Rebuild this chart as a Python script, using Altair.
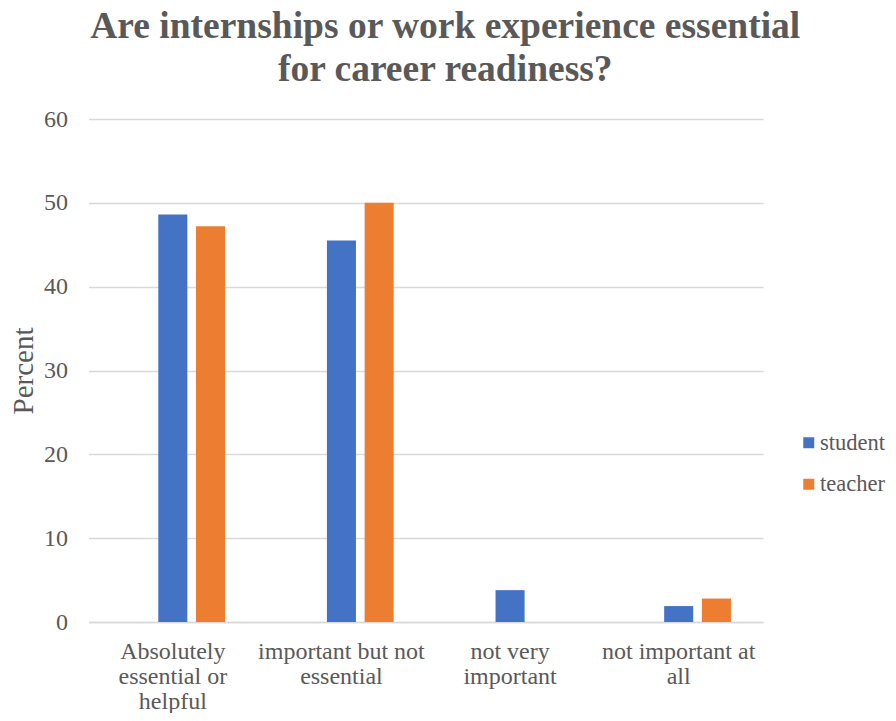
import altair as alt
import pandas as pd

categories = ["Absolutely essential or helpful", "important but not essential",
              "not very important", "not important at all"]
label_lines = [["Absolutely", "essential or", "helpful"],
               ["important but not", "essential"],
               ["not very", "important"],
               ["not important at", "all"]]
student = [48.6, 45.5, 3.8, 1.9]
teacher = [47.2, 50.0, None, 2.8]
series = ["student", "teacher"]

rows = []
for c, s, t in zip(categories, student, teacher):
    rows.append({"category": c, "group": "student", "value": s})
    if t is not None:
        rows.append({"category": c, "group": "teacher", "value": t})
df = pd.DataFrame(rows)

expr = ""
for c, lines in zip(categories, label_lines):
    arr = "[" + ",".join("'" + l + "'" for l in lines) + "]"
    expr += f"datum.value == '{c}' ? {arr} : "
expr += "datum.label"

FONT = "Liberation Serif"
GREY = "#595959"

chart = alt.Chart(df).mark_bar(stroke=None).encode(
    x=alt.X("category:N", sort=categories,
            scale=alt.Scale(paddingInner=0, paddingOuter=0),
            axis=alt.Axis(title=None, labelAngle=0, labelExpr=expr, labelFont=FONT,
                          labelFontSize=24, labelColor=GREY, labelLineHeight=25,
                          ticks=False, domain=True, domainColor="#D9D9D9", domainWidth=1.5,
                          labelPadding=17, labelLimit=300)),
    xOffset=alt.XOffset("group:N",
                        scale=alt.Scale(domain=["_", "student", "teacher"],
                                        paddingInner=0.23, paddingOuter=0.85)),
    y=alt.Y("value:Q", scale=alt.Scale(domain=[0, 60]),
            axis=alt.Axis(title="Percent", values=[0, 10, 20, 30, 40, 50, 60],
                          labelFont=FONT, labelFontSize=24, labelColor=GREY,
                          titleFont=FONT, titleFontSize=29, titleColor=GREY,
                          titleFontWeight="normal", titlePadding=5,
                          ticks=False, domain=False, labelPadding=21,
                          gridColor="#D9D9D9", gridWidth=1.5)),
    color=alt.Color("group:N", scale=alt.Scale(domain=series, range=["#4472C4", "#ED7D31"]),
                    legend=alt.Legend(title=None, orient="none", legendX=709, legendY=312.5,
                                      padding=0,
                                      symbolType="square", symbolSize=121,
                                      symbolStrokeWidth=0, labelFont=FONT,
                                      labelFontSize=22.5, labelColor=GREY,
                                      labelOffset=0, rowPadding=18.5)),
).properties(
    width=674.5, height=503,
    title=alt.Title(["Are internships or work experience essential", "for career readiness?"],
                    font=FONT, fontSize=37.5, fontWeight="bold", color=GREY,
                    lineHeight=43, anchor="middle", dx=19.5, offset=19),
    padding={"left": 80.5, "top": 111, "right": 125, "bottom": 91},
    autosize=alt.AutoSizeParams(type="none"),
).configure_view(stroke=None)

chart.save("out.html", embed_options={"renderer": "svg", "actions": False})
